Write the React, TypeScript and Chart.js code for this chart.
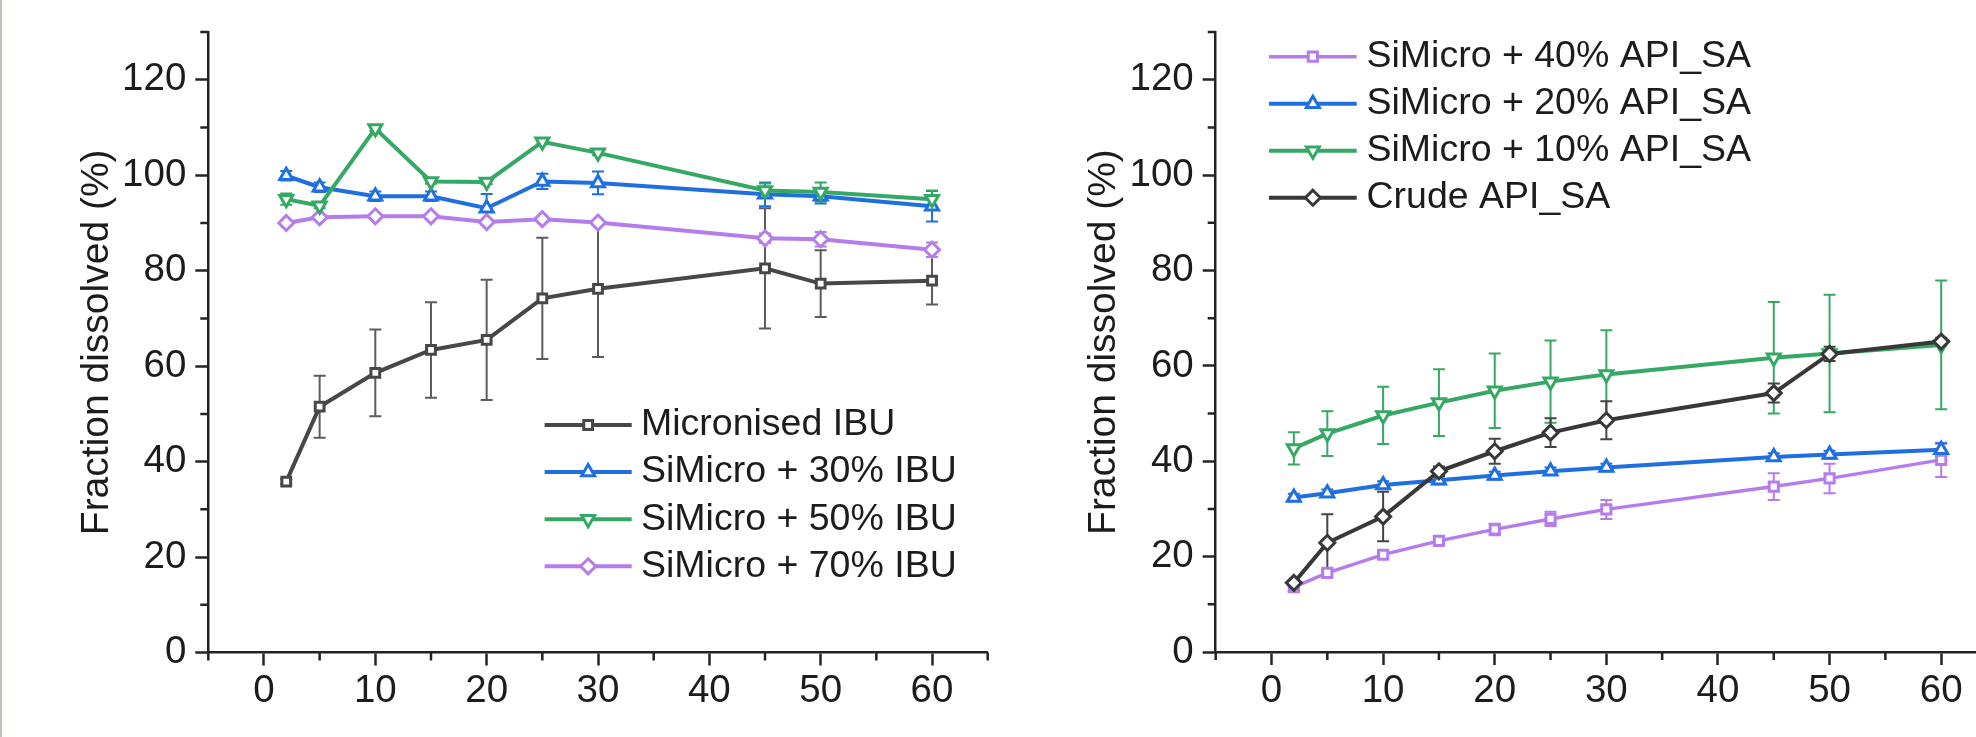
import React, { useEffect, useRef } from 'react';
import { Chart, registerables } from 'chart.js';

Chart.register(...registerables);

const FONT = '"Liberation Sans", Arial, Helvetica, sans-serif';
const AXIS = '#232323';
const TEXT = '#1c1c1c';

// ---------- data ----------
const times = [2, 5, 10, 15, 20, 25, 30, 45, 50, 60];

const xTickValues = [0, 10, 20, 30, 40, 50, 60];
const xMinorValues = [-5, 5, 15, 25, 35, 45, 55, 65];
const yTickValues = [0, 20, 40, 60, 80, 100, 120];
const yMinorValues = [10, 30, 50, 70, 90, 110, 130];

// Left panel (IBU)
const micronisedIBU = [35.8, 51.5, 58.6, 63.4, 65.5, 74.2, 76.2, 80.5, 77.3, 77.9];
const micronisedIBUErr = [0.5, 6.5, 9.1, 10.0, 12.6, 12.7, 14.3, 12.6, 7.0, 5.0];
const simicro30IBU = [99.9, 97.5, 95.6, 95.6, 93.1, 98.7, 98.4, 96.0, 95.6, 93.5];
const simicro30IBUErr = [1.0, 1.0, 1.0, 1.0, 3.0, 1.6, 2.4, 2.5, 1.5, 3.2];
const simicro50IBU = [95.0, 93.6, 109.8, 98.7, 98.6, 107.0, 104.7, 96.8, 96.5, 95.0];
const simicro50IBUErr = [1.2, 0.5, 0.5, 0.5, 0.5, 0.5, 0.5, 1.5, 2.0, 1.8];
const simicro70IBU = [90.0, 91.2, 91.4, 91.4, 90.2, 90.8, 90.1, 86.8, 86.6, 84.4];
const simicro70IBUErr = [0.5, 0.5, 0.5, 0.5, 0.5, 0.5, 0.5, 1.0, 1.5, 1.5];

// Right panel (API_SA)
const simicro40SA = [13.6, 16.6, 20.4, 23.3, 25.7, 27.9, 29.9, 34.7, 36.4, 40.3];
const simicro40SAErr = [0.8, 0.8, 0.8, 1.0, 1.2, 1.5, 2.0, 2.8, 3.1, 3.6];
const simicro20SA = [32.4, 33.3, 35.0, 36.0, 37.0, 37.9, 38.7, 40.9, 41.4, 42.4];
const simicro20SAErr = [0.8, 0.8, 0.8, 0.8, 0.8, 0.8, 0.8, 0.8, 0.8, 1.3];
const simicro10SA = [42.7, 45.8, 49.6, 52.3, 54.8, 56.7, 58.2, 61.7, 62.6, 64.4];
const simicro10SAErr = [3.4, 4.7, 6.0, 7.0, 7.8, 8.6, 9.3, 11.7, 12.3, 13.5];
const crudeSA = [14.5, 22.9, 28.4, 37.9, 42.1, 46.0, 48.6, 54.3, 62.5, 65.1];
const crudeSAErr = [0.5, 6.0, 5.2, 1.0, 2.6, 3.0, 4.0, 2.0, 1.5, 0.8];

// ---------- styles ----------
type Shape = 'rect' | 'triangle' | 'triangleDown' | 'rectRot';
interface SeriesDef {
  label: string;
  values: number[];
  errors: number[];
  color: string;
  errColor: string;
  shape: Shape;
  radius: number;
  lineWidth: number;
  order: number;
}

const BLACK = '#474747';
const BLACK2 = '#383838';
const BLUE = '#1f6fe0';
const GREEN = '#35a864';
const PURPLE = '#b57cec';

const MARKER_BORDER = 3;

const leftSeries: SeriesDef[] = [
  { label: 'Micronised IBU', values: micronisedIBU, errors: micronisedIBUErr, color: BLACK, errColor: '#5c5c5c', shape: 'rect', radius: 6.2, lineWidth: 4, order: 3 },
  { label: 'SiMicro + 30% IBU', values: simicro30IBU, errors: simicro30IBUErr, color: BLUE, errColor: BLUE, shape: 'triangle', radius: 7.5, lineWidth: 4, order: 1 },
  { label: 'SiMicro + 50% IBU', values: simicro50IBU, errors: simicro50IBUErr, color: GREEN, errColor: GREEN, shape: 'triangleDown', radius: 7.5, lineWidth: 4, order: 0 },
  { label: 'SiMicro + 70% IBU', values: simicro70IBU, errors: simicro70IBUErr, color: PURPLE, errColor: PURPLE, shape: 'rectRot', radius: 7.5, lineWidth: 4, order: 2 },
];

const rightSeries: SeriesDef[] = [
  { label: 'SiMicro + 40% API_SA', values: simicro40SA, errors: simicro40SAErr, color: PURPLE, errColor: PURPLE, shape: 'rect', radius: 6.5, lineWidth: 3.4, order: 3 },
  { label: 'SiMicro + 20% API_SA', values: simicro20SA, errors: simicro20SAErr, color: BLUE, errColor: BLUE, shape: 'triangle', radius: 7.5, lineWidth: 4, order: 2 },
  { label: 'SiMicro + 10% API_SA', values: simicro10SA, errors: simicro10SAErr, color: GREEN, errColor: GREEN, shape: 'triangleDown', radius: 7.5, lineWidth: 4, order: 1 },
  { label: 'Crude API_SA', values: crudeSA, errors: crudeSAErr, color: BLACK2, errColor: '#444444', shape: 'rectRot', radius: 7.5, lineWidth: 4, order: 0 },
];

interface PanelLayout {
  canvasLeft: number;
  canvasWidth: number;
  yAxisWidth: number;
  padTop: number;
  padRight: number;
  xAxisHeight: number;
  titlePad: number;
  legendX0: number;
  legendX1: number;
  legendTextX: number;
  legendY0: number;
  legendDy: number;
}

const leftLayout: PanelLayout = {
  canvasLeft: 0, canvasWidth: 1000, yAxisWidth: 208.3, padTop: 24, padRight: 12.3, xAxisHeight: 84.5,
  titlePad: 73.5, legendX0: 544.6, legendX1: 631.7, legendTextX: 641, legendY0: 425, legendDy: 47.1,
};
const rightLayout: PanelLayout = {
  canvasLeft: 1000, canvasWidth: 1050, yAxisWidth: 215.7, padTop: 22.7, padRight: 53, xAxisHeight: 85,
  titlePad: 80.8, legendX0: 269, legendX1: 356.7, legendTextX: 366.5, legendY0: 56.7, legendDy: 47,
};

const TICK_FONT_SIZE = 38.5;
const TITLE_FONT_SIZE = 39;
const LEGEND_FONT_SIZE = 37.5;

function drawMarker(ctx: CanvasRenderingContext2D, shape: Shape, x: number, y: number, r: number) {
  ctx.beginPath();
  if (shape === 'rect') {
    const h = r * Math.SQRT1_2;
    ctx.rect(x - h, y - h, 2 * h, 2 * h);
  } else if (shape === 'triangle') {
    ctx.moveTo(x, y - r);
    ctx.lineTo(x + 0.866 * r, y + 0.5 * r);
    ctx.lineTo(x - 0.866 * r, y + 0.5 * r);
    ctx.closePath();
  } else if (shape === 'triangleDown') {
    ctx.moveTo(x, y + r);
    ctx.lineTo(x - 0.866 * r, y - 0.5 * r);
    ctx.lineTo(x + 0.866 * r, y - 0.5 * r);
    ctx.closePath();
  } else {
    ctx.moveTo(x, y - r);
    ctx.lineTo(x + r, y);
    ctx.lineTo(x, y + r);
    ctx.lineTo(x - r, y);
    ctx.closePath();
  }
  ctx.fillStyle = '#ffffff';
  ctx.fill();
  ctx.stroke();
}

function buildConfig(series: SeriesDef[], L: PanelLayout): any {
  const errorBarPlugin = {
    id: 'errorBars',
    beforeDatasetsDraw(chart: any) {
      const { ctx } = chart;
      const xs = chart.scales.x;
      const ys = chart.scales.y;
      ctx.save();
      chart.data.datasets.forEach((ds: any) => {
        ctx.strokeStyle = ds.errorColor;
        ctx.lineWidth = 2;
        ds.data.forEach((p: any, i: number) => {
          const e = ds.errorBars[i];
          if (!e) return;
          const px = xs.getPixelForValue(p.x);
          const yTop = ys.getPixelForValue(p.y + e);
          const yBot = ys.getPixelForValue(p.y - e);
          ctx.beginPath();
          ctx.moveTo(px, yTop);
          ctx.lineTo(px, yBot);
          ctx.moveTo(px - 6, yTop);
          ctx.lineTo(px + 6, yTop);
          ctx.moveTo(px - 6, yBot);
          ctx.lineTo(px + 6, yBot);
          ctx.stroke();
        });
      });
      ctx.restore();
    },
  };

  const minorTickPlugin = {
    id: 'minorTicks',
    afterDraw(chart: any) {
      const { ctx, chartArea } = chart;
      const xs = chart.scales.x;
      const ys = chart.scales.y;
      ctx.save();
      ctx.strokeStyle = AXIS;
      ctx.lineWidth = 2.5;
      ctx.beginPath();
      xMinorValues.forEach((v) => {
        const px = xs.getPixelForValue(v);
        ctx.moveTo(px, chartArea.bottom);
        ctx.lineTo(px, chartArea.bottom + 8);
      });
      yMinorValues.forEach((v) => {
        const py = ys.getPixelForValue(v);
        ctx.moveTo(chartArea.left, py);
        ctx.lineTo(chartArea.left - 8, py);
      });
      ctx.stroke();
      ctx.restore();
    },
  };

  const legendPlugin = {
    id: 'customLegend',
    afterDraw(chart: any) {
      const { ctx } = chart;
      ctx.save();
      series.forEach((s, i) => {
        const cy = L.legendY0 + i * L.legendDy;
        ctx.strokeStyle = s.color;
        ctx.lineWidth = s.lineWidth;
        ctx.beginPath();
        ctx.moveTo(L.legendX0, cy);
        ctx.lineTo(L.legendX1, cy);
        ctx.stroke();
        ctx.lineWidth = MARKER_BORDER;
        drawMarker(ctx, s.shape, (L.legendX0 + L.legendX1) / 2, cy, s.radius);
        ctx.fillStyle = TEXT;
        ctx.font = `${LEGEND_FONT_SIZE}px ${FONT}`;
        ctx.textBaseline = 'middle';
        ctx.textAlign = 'left';
        ctx.fillText(s.label, L.legendTextX, cy);
      });
      ctx.restore();
    },
  };

  const tickFont = { family: FONT, size: TICK_FONT_SIZE };
  const titleFont = { family: FONT, size: TITLE_FONT_SIZE };

  return {
    type: 'line',
    data: {
      datasets: series.map((s) => ({
        label: s.label,
        data: times.map((t, i) => ({ x: t, y: s.values[i] })),
        borderColor: s.color,
        backgroundColor: s.color,
        borderWidth: s.lineWidth,
        pointStyle: s.shape === 'triangleDown' ? 'triangle' : s.shape,
        pointRotation: s.shape === 'triangleDown' ? 180 : 0,
        pointRadius: s.radius,
        pointBorderWidth: MARKER_BORDER,
        pointBackgroundColor: '#ffffff',
        pointBorderColor: s.color,
        tension: 0,
        order: s.order,
        clip: false,
        errorBars: s.errors,
        errorColor: s.errColor,
      })),
    },
    options: {
      responsive: false,
      animation: false,
      devicePixelRatio: 1,
      layout: { padding: { left: 0, top: L.padTop, right: L.padRight, bottom: 0 } },
      plugins: { legend: { display: false }, tooltip: { enabled: false } },
      scales: {
        x: {
          type: 'linear',
          min: -5,
          max: 65,
          afterBuildTicks: (s: any) => {
            s.ticks = xTickValues.map((v) => ({ value: v }));
          },
          afterFit: (s: any) => {
            s.height = L.xAxisHeight;
          },
          grid: { drawOnChartArea: false, drawTicks: true, tickLength: 13, tickWidth: 2.5, tickColor: AXIS },
          border: { display: true, color: AXIS, width: 2.5 },
          ticks: { font: tickFont, color: TEXT, padding: 3, maxRotation: 0, autoSkip: false },
        },
        y: {
          type: 'linear',
          min: 0,
          max: 130,
          afterBuildTicks: (s: any) => {
            s.ticks = yTickValues.map((v) => ({ value: v }));
          },
          afterFit: (s: any) => {
            s.width = L.yAxisWidth;
          },
          grid: { drawOnChartArea: false, drawTicks: true, tickLength: 13, tickWidth: 2.5, tickColor: AXIS },
          border: { display: true, color: AXIS, width: 2.5 },
          ticks: { font: tickFont, color: TEXT, padding: 9, autoSkip: false },
          title: {
            display: true,
            text: 'Fraction dissolved (%)',
            font: titleFont,
            color: TEXT,
            padding: { top: L.titlePad, bottom: 0 },
          },
        },
      },
    },
    plugins: [errorBarPlugin, minorTickPlugin, legendPlugin],
  };
}

function Panel({ series, layout }: { series: SeriesDef[]; layout: PanelLayout }) {
  const ref = useRef<HTMLCanvasElement>(null);
  useEffect(() => {
    const canvas = ref.current;
    if (!canvas) return;
    const chart = new Chart(canvas, buildConfig(series, layout));
    return () => chart.destroy();
  }, [series, layout]);
  return (
    <canvas
      ref={ref}
      width={layout.canvasWidth}
      height={737}
      style={{ position: 'absolute', left: layout.canvasLeft, top: 0, width: layout.canvasWidth, height: 737 }}
    />
  );
}

export default function App() {
  return (
    <div
      style={{
        position: 'absolute',
        left: 0,
        top: 0,
        width: 1976,
        height: 737,
        overflow: 'hidden',
        background: '#ffffff',
      }}
    >
      <Panel series={leftSeries} layout={leftLayout} />
      <Panel series={rightSeries} layout={rightLayout} />
      <div style={{ position: 'absolute', left: 0, top: 0, width: 2, height: 737, background: '#cbbfb3' }} />
    </div>
  );
}
